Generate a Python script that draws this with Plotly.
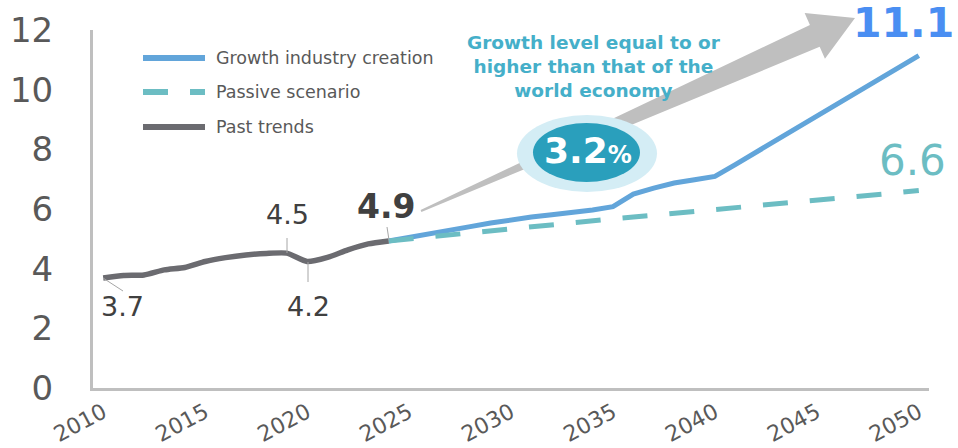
import plotly.graph_objects as go

# ---------------- data ----------------
past_years = list(range(2010, 2025))
past_values = [3.69, 3.77, 3.79, 3.96, 4.04, 4.24, 4.37, 4.46, 4.51, 4.52,
               4.24, 4.38, 4.63, 4.83, 4.93]

future_years = list(range(2024, 2051))
growth_values = [4.93, 5.06, 5.17, 5.28, 5.41, 5.53, 5.64, 5.73, 5.81, 5.88,
                 5.97, 6.08, 6.50, 6.70, 6.87, 6.98, 7.09, 7.49, 7.90, 8.30,
                 8.71, 9.11, 9.52, 9.92, 10.33, 10.73, 11.14]
passive_values = [4.93, 5.00, 5.08, 5.15, 5.22, 5.29, 5.36, 5.42, 5.49, 5.55,
                  5.61, 5.67, 5.73, 5.79, 5.86, 5.92, 5.98, 6.04, 6.10, 6.17,
                  6.23, 6.29, 6.36, 6.42, 6.49, 6.55, 6.62]

series_names = ["Growth industry creation", "Passive scenario", "Past trends"]
x_tick_vals = [2010, 2015, 2020, 2025, 2030, 2035, 2040, 2045, 2050]
y_tick_vals = [0, 2, 4, 6, 8, 10, 12]

callout_lines = ["Growth level equal to or", "higher than that of the", "world economy"]
growth_rate = "3.2"

# ---------------- styling ----------------
FONT = "DejaVu Sans"
C_BLUE = "#62a5da"
C_TEAL = "#6cbdc3"
C_GRAY = "#6b6b70"
C_AXIS = "#bfbfbf"
C_TICK = "#595959"
C_LABEL = "#404040"

W, H = 958, 448
ML, MR, MT, MB = 93, 29, 30, 60
PW, PH = W - ML - MR, H - MT - MB


def px(x):
    return (x - ML) / PW


def py(y):
    return (H - MB - y) / PH


fig = go.Figure()

fig.add_trace(go.Scatter(x=future_years, y=growth_values, mode="lines",
                         name=series_names[0],
                         line=dict(color=C_BLUE, width=5), showlegend=False))
fig.add_trace(go.Scatter(x=future_years, y=passive_values, mode="lines",
                         name=series_names[1],
                         line=dict(color=C_TEAL, width=5, dash="25px,22px"),
                         showlegend=False))
fig.add_trace(go.Scatter(x=past_years, y=past_values, mode="lines",
                         name=series_names[2],
                         line=dict(color=C_GRAY, width=5.5, shape="spline", smoothing=0.6),
                         showlegend=False))

shapes = []
annotations = []

# ---- big gray arrow (wedge) ----
tail = (421, 211)
tip = (855, 18)
dx, dy = tip[0] - tail[0], tip[1] - tail[1]
L = (dx ** 2 + dy ** 2) ** 0.5
ux, uy = dx / L, dy / L
nx, ny = -uy, ux
head_len, body_hw, head_hw, tail_hw = 44, 12, 25, 1
bx, by = tip[0] - head_len * ux, tip[1] - head_len * uy
pts = [
    (tail[0] - tail_hw * nx, tail[1] - tail_hw * ny),
    (bx - body_hw * nx, by - body_hw * ny),
    (bx - head_hw * nx, by - head_hw * ny),
    tip,
    (bx + head_hw * nx, by + head_hw * ny),
    (bx + body_hw * nx, by + body_hw * ny),
    (tail[0] + tail_hw * nx, tail[1] + tail_hw * ny),
]
path = "M " + " L ".join(f"{px(a):.5f},{py(b):.5f}" for a, b in pts) + " Z"
shapes.append(dict(type="path", xref="paper", yref="paper", path=path,
                   fillcolor="#bfbfbf", line=dict(width=0), layer="above"))

# ---- ellipse badge ----
shapes.append(dict(type="circle", xref="paper", yref="paper",
                   x0=px(517), x1=px(657), y0=py(192), y1=py(115),
                   fillcolor="#d4edf5", line=dict(width=0), layer="above"))
shapes.append(dict(type="circle", xref="paper", yref="paper",
                   x0=px(533), x1=px(640), y0=py(182), y1=py(123),
                   fillcolor="#2a9fbc", line=dict(width=0), layer="above"))

# ---- leader lines for data labels ----
for (x0, y0, x1, y1) in [(103, 278, 123, 291), (287, 238, 287, 253),
                         (308, 262, 308, 282), (387, 227, 389, 240)]:
    shapes.append(dict(type="line", xref="paper", yref="paper",
                       x0=px(x0), y0=py(y0), x1=px(x1), y1=py(y1),
                       line=dict(color="#a6a6a6", width=1), layer="above"))

# ---- custom legend ----
leg_rows = [(58, C_BLUE, [(143, 205)]),
            (92, C_TEAL, [(143, 168), (190, 205)]),
            (127, C_GRAY, [(143, 205)])]
for (yy, col, segs), name in zip(leg_rows, series_names):
    for a, b in segs:
        shapes.append(dict(type="line", xref="paper", yref="paper",
                           x0=px(a), x1=px(b), y0=py(yy), y1=py(yy),
                           line=dict(color=col, width=6)))
    annotations.append(dict(xref="paper", yref="paper", x=px(214), y=py(yy),
                            xanchor="left", yanchor="middle", text=name, showarrow=False,
                            font=dict(family=FONT, size=17.5, color=C_TICK)))

# ---- data labels ----
def lab(text, x, y, size, color, bold=False):
    t = f"<b>{text}</b>" if bold else text
    annotations.append(dict(xref="paper", yref="paper", x=px(x), y=py(y),
                            xanchor="center", yanchor="middle", text=t, showarrow=False,
                            font=dict(family=FONT, size=size, color=color)))


lab(f"{past_values[0]:.1f}", 122, 306, 27, C_LABEL)
lab(f"{past_values[9]:.1f}", 287, 214, 27, C_LABEL)
lab(f"{past_values[10]:.1f}", 308, 306, 27, C_LABEL)
lab(f"{past_values[-1]:.1f}", 386, 206, 33, C_LABEL, bold=True)
lab(f"{growth_values[-1]:.1f}", 903, 23, 41, "#4a8ef2", bold=True)
lab(f"{passive_values[-1]:.1f}", 912, 160, 42, C_TEAL)

annotations.append(dict(xref="paper", yref="paper", x=px(594), y=py(66),
                        xanchor="center", yanchor="middle",
                        text="<b>" + "<br>".join(callout_lines) + "</b>",
                        showarrow=False, align="center",
                        font=dict(family=FONT, size=18.5, color="#45afc9")))
annotations.append(dict(xref="paper", yref="paper", x=px(588), y=py(150),
                        xanchor="center", yanchor="middle",
                        text=f"<b>{growth_rate}<span style='font-size:24px'>%</span></b>",
                        showarrow=False,
                        font=dict(family=FONT, size=36, color="white")))

fig.update_layout(
    width=W, height=H,
    margin=dict(l=ML, r=MR, t=MT, b=MB, autoexpand=False),
    paper_bgcolor="white", plot_bgcolor="white",
    shapes=shapes, annotations=annotations,
    showlegend=False,
)
fig.update_xaxes(range=[2009.5, 2050.5], tickvals=x_tick_vals,
                 ticktext=[str(v) for v in x_tick_vals],
                 tickangle=-28, showgrid=False, zeroline=False, automargin=False,
                 showline=True, linecolor=C_AXIS, linewidth=3, ticks="",
                 tickfont=dict(family=FONT, size=22, color=C_TICK))
fig.update_yaxes(range=[0, 12], tickvals=y_tick_vals, showgrid=False, zeroline=False,
                 automargin=False,
                 showline=True, linecolor=C_AXIS, linewidth=3, ticks="",
                 ticklabelstandoff=30,
                 tickfont=dict(family=FONT, size=34, color=C_TICK))

fig.write_html("out.html")
